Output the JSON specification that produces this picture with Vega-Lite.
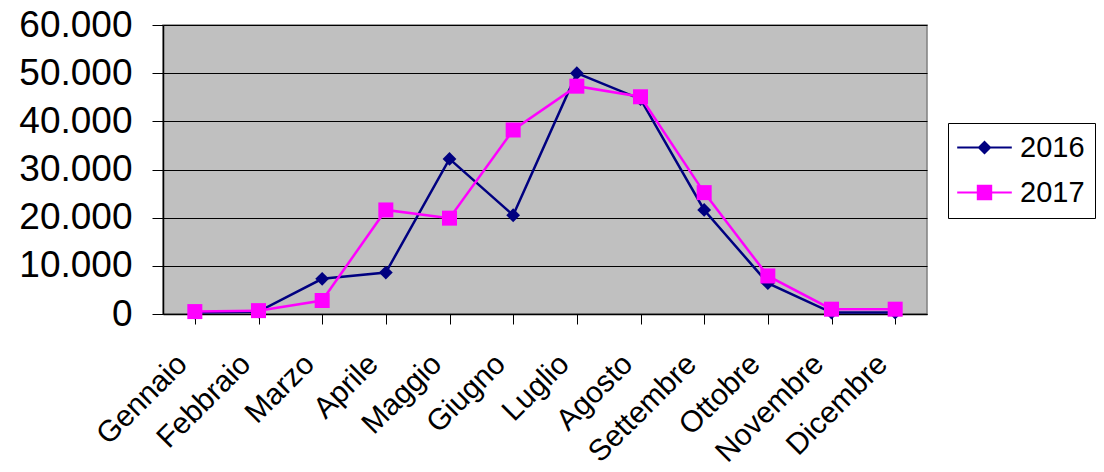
{
  "$schema": "https://vega.github.io/schema/vega-lite/v6.json",
  "autosize": {"type": "none"},
  "width": 764,
  "height": 289,
  "padding": {"left": 163, "top": 25, "right": 177, "bottom": 158},
  "background": "white",
  "config": {
    "font": "Liberation Sans",
    "view": {"fill": "#C0C0C0", "stroke": "#808080", "strokeWidth": 1.5}
  },
  "data": {
    "values": [
      {"mese": "Gennaio", "anno": "2016", "valore": 300},
      {"mese": "Febbraio", "anno": "2016", "valore": 500},
      {"mese": "Marzo", "anno": "2016", "valore": 7300},
      {"mese": "Aprile", "anno": "2016", "valore": 8600},
      {"mese": "Maggio", "anno": "2016", "valore": 32200},
      {"mese": "Giugno", "anno": "2016", "valore": 20500},
      {"mese": "Luglio", "anno": "2016", "valore": 50000},
      {"mese": "Agosto", "anno": "2016", "valore": 44600},
      {"mese": "Settembre", "anno": "2016", "valore": 21600},
      {"mese": "Ottobre", "anno": "2016", "valore": 6400},
      {"mese": "Novembre", "anno": "2016", "valore": 300},
      {"mese": "Dicembre", "anno": "2016", "valore": 300},
      {"mese": "Gennaio", "anno": "2017", "valore": 500},
      {"mese": "Febbraio", "anno": "2017", "valore": 700},
      {"mese": "Marzo", "anno": "2017", "valore": 2800},
      {"mese": "Aprile", "anno": "2017", "valore": 21600},
      {"mese": "Maggio", "anno": "2017", "valore": 19900},
      {"mese": "Giugno", "anno": "2017", "valore": 38200},
      {"mese": "Luglio", "anno": "2017", "valore": 47300},
      {"mese": "Agosto", "anno": "2017", "valore": 45100},
      {"mese": "Settembre", "anno": "2017", "valore": 25200},
      {"mese": "Ottobre", "anno": "2017", "valore": 7900},
      {"mese": "Novembre", "anno": "2017", "valore": 1000},
      {"mese": "Dicembre", "anno": "2017", "valore": 1000}
    ]
  },
  "encoding": {
    "x": {
      "field": "mese",
      "type": "nominal",
      "sort": ["Gennaio","Febbraio","Marzo","Aprile","Maggio","Giugno","Luglio","Agosto","Settembre","Ottobre","Novembre","Dicembre"],
      "scale": {"paddingInner": 0, "paddingOuter": 0},
      "axis": {
        "title": null,
        "bandPosition": 0,
        "labelOffset": -13,
        "labelAngle": -45,
        "labelAlign": "right",
        "labelBaseline": "middle",
        "labelFont": "Liberation Sans",
        "labelFontSize": 30,
        "labelColor": "black",
        "labelPadding": 35,
        "tickSize": 10,
        "tickColor": "black",
        "domainColor": "black",
        "domainWidth": 1.5,
        "grid": false
      }
    },
    "y": {
      "field": "valore",
      "type": "quantitative",
      "scale": {"domain": [0, 60000], "nice": false},
      "axis": {
        "title": null,
        "values": [0, 10000, 20000, 30000, 40000, 50000, 60000],
        "labelExpr": "replace(format(datum.value, ','), ',', '.')",
        "labelFont": "Liberation Sans",
        "labelFontSize": 37,
        "labelColor": "black",
        "labelPadding": 20,
        "tickSize": 11,
        "tickColor": "black",
        "domainColor": "black",
        "domainWidth": 1.5,
        "grid": true,
        "gridColor": "black",
        "gridWidth": 1.2
      }
    },
    "color": {
      "field": "anno",
      "type": "nominal",
      "scale": {"domain": ["2016", "2017"], "range": ["#000080", "#FF00FF"]},
      "legend": {
        "title": null,
        "orient": "none",
        "legendX": 785,
        "legendY": 98,
        "fillColor": "white",
        "strokeColor": "black",
        "padding": 10,
        "symbolSize": 196,
        "symbolOffset": 12,
        "labelOffset": 21,
        "labelFont": "Liberation Sans",
        "labelFontSize": 29,
        "labelColor": "black",
        "rowPadding": 15,
        "encode": {
          "symbols": {
            "update": {
              "shape": {"signal": "datum.value == '2016' ? 'M-1,0L0,-1L1,0L0,1Z M-3.9,-0.14L3.9,-0.14L3.9,0.14L-3.9,0.14Z' : 'M-1.1,-1.1L1.1,-1.1L1.1,1.1L-1.1,1.1Z M-3.9,-0.14L3.9,-0.14L3.9,0.14L-3.9,0.14Z'"},
              "fill": {"signal": "datum.value == '2016' ? '#000080' : '#FF00FF'"},
              "fillOpacity": {"value": 1},
              "strokeWidth": {"value": 0},
              "opacity": {"value": 1}
            }
          }
        }
      }
    }
  },
  "layer": [
    {
      "mark": {"type": "line", "strokeWidth": 2.5}
    },
    {
      "transform": [{"filter": "datum.anno == '2016'"}],
      "mark": {"type": "point", "filled": true, "opacity": 1, "strokeWidth": 0, "shape": "diamond", "size": 190}
    },
    {
      "transform": [{"filter": "datum.anno == '2017'"}],
      "mark": {"type": "point", "filled": true, "opacity": 1, "strokeWidth": 0, "shape": "square", "size": 225}
    }
  ]
}
